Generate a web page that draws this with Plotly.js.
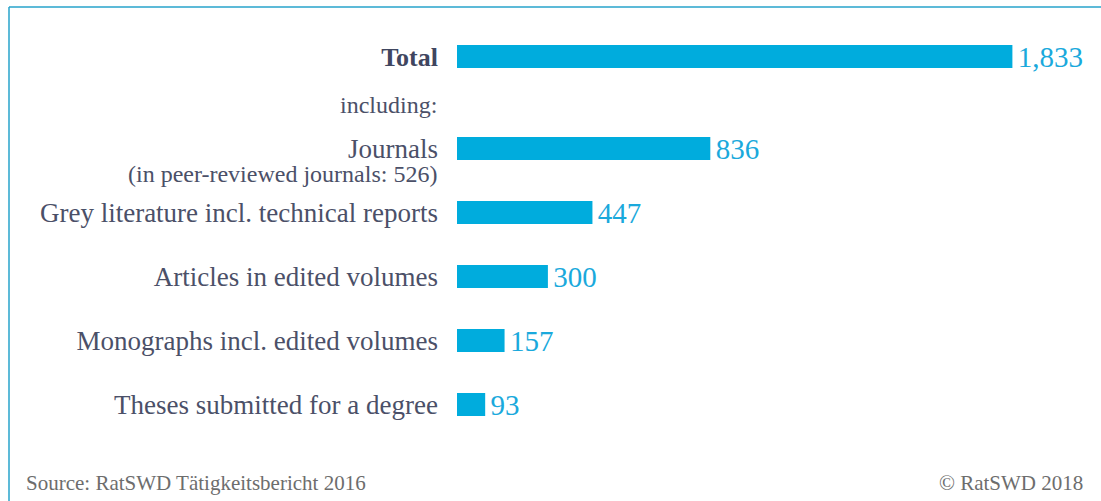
<!DOCTYPE html>
<html>
<head>
<meta charset="utf-8">
<script src="https://cdn.plot.ly/plotly-3.0.1.min.js"></script>
<style>
html,body{margin:0;padding:0;background:#fff;}
#chart{width:1101px;height:501px;}
</style>
</head>
<body>
<div id="chart"></div>
<script>
// ---- data ----
const totalCategory = ["<b>Total</b>"];
const totalValue = [1833];
const categories = [
  "Journals",
  "Grey literature incl. technical reports",
  "Articles in edited volumes",
  "Monographs incl. edited volumes",
  "Theses submitted for a degree"
];
const values = [836, 447, 300, 157, 93];
const journalsNote = "(in peer-reviewed journals: 526)";
const includingLabel = "including:";
const sourceText = "Source: RatSWD Tätigkeitsbericht 2016";
const copyrightText = "© RatSWD 2018";

// ---- styles ----
const barColor = "#00acdd";
const valueColor = "#1aa9dc";
const labelColor = "#4b5068";
const serif = "Liberation Serif, serif";
const fmt = v => "\u200A" + v.toLocaleString("en-US");

const trTotal = {
  type: "bar", orientation: "h",
  x: totalValue, y: totalCategory,
  xaxis: "x", yaxis: "y",
  marker: {color: barColor},
  text: totalValue.map(fmt), textposition: "outside",
  textfont: {family: serif, size: 29, color: valueColor},
  cliponaxis: false, constraintext: "none",
  hoverinfo: "skip"
};
const trItems = {
  type: "bar", orientation: "h",
  x: values, y: categories,
  xaxis: "x2", yaxis: "y2",
  marker: {color: barColor},
  text: values.map(fmt), textposition: "outside",
  textfont: {family: serif, size: 29, color: valueColor},
  cliponaxis: false, constraintext: "none",
  hoverinfo: "skip"
};

const H = 501, L = 457, W = 606;
const py = p => 1 - p / H;
const px = p => (p - L) / W;

const yCommon = {
  type: "category",
  showgrid: false, zeroline: false, showline: false, ticks: "",
  tickfont: {family: serif, size: 27, color: labelColor},
  ticklabelstandoff: 18, fixedrange: true
};
const xCommon = {range: [0, 2000], visible: false, fixedrange: true};

const layout = {
  width: 1101, height: 501,
  margin: {l: L, r: 1101 - L - W, t: 0, b: 0},
  paper_bgcolor: "#fff", plot_bgcolor: "#fff",
  showlegend: false, bargap: 0.64,
  font: {family: serif},
  xaxis: Object.assign({}, xCommon, {anchor: "y"}),
  xaxis2: Object.assign({}, xCommon, {anchor: "y2"}),
  yaxis: Object.assign({}, yCommon, {domain: [py(88.5), py(24.5)], anchor: "x",
    range: [0.5, -0.5],
    tickfont: {family: serif, size: 26, color: "#3f4660"}}),
  yaxis2: Object.assign({}, yCommon, {domain: [py(436.5), py(116.5)], anchor: "x2",
    range: [4.5, -0.5]}),
  shapes: [
    {type: "line", xref: "paper", yref: "paper", x0: px(9), x1: px(1101), y0: py(7), y1: py(7),
     line: {color: "#27a3cb", width: 1.5}},
    {type: "line", xref: "paper", yref: "paper", x0: px(9), x1: px(9), y0: py(7), y1: 0,
     line: {color: "#27a3cb", width: 1.5}}
  ],
  annotations: [
    {text: includingLabel, xref: "paper", yref: "paper", x: px(439), y: py(105),
     xanchor: "right", yanchor: "middle", showarrow: false,
     font: {family: serif, size: 24, color: labelColor}},
    {text: journalsNote, xref: "paper", yref: "y2", x: px(439), y: categories[0],
     xanchor: "right", yanchor: "middle", yshift: -25, showarrow: false,
     font: {family: serif, size: 24, color: labelColor}},
    {text: sourceText, xref: "paper", yref: "paper", x: px(24), y: py(483),
     xanchor: "left", yanchor: "middle", showarrow: false,
     font: {family: serif, size: 21, color: "#6d6d6d"}},
    {text: copyrightText, xref: "paper", yref: "paper", x: px(1085), y: py(483),
     xanchor: "right", yanchor: "middle", showarrow: false,
     font: {family: serif, size: 21, color: "#6d6d6d"}}
  ]
};

Plotly.newPlot("chart", [trTotal, trItems], layout, {displayModeBar: false, staticPlot: true});
</script>
</body>
</html>
